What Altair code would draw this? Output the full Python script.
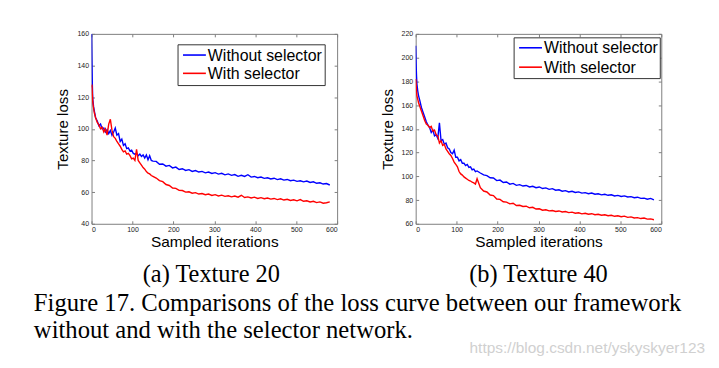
import altair as alt
import pandas as pd

ITER = [0, 1, 2, 3, 5, 7, 10, 14, 18, 22, 26, 30, 34, 38, 42, 46, 50, 54, 58, 62, 66, 70, 74, 78, 82, 86, 90,
        94, 98, 102, 106, 110, 114, 118, 122, 126, 130, 134, 138, 142, 146, 150, 158, 166, 174, 182, 190, 198,
        206, 214, 222, 230, 238, 246, 254, 262, 270, 278, 286, 294, 302, 310, 318, 326, 334, 342, 350, 358,
        366, 374, 382, 390, 398, 406, 414, 422, 430, 438, 446, 454, 462, 470, 478, 486, 494, 502, 510, 518,
        526, 534, 542, 550, 558, 566, 574, 582]

T20_WITHOUT = [160, 142, 128, 119, 114, 111, 107, 105, 102, 103, 100, 100.5, 98, 99.5, 97, 99, 96, 98, 100.5,
               96, 97, 92, 93.5, 89.5, 90.5, 87.5, 88, 86, 86.5, 84.5, 84, 84.5, 83, 84, 82.5, 83.5, 81.5, 83.5,
               80.5, 83, 80, 79.6,
               79.4, 77.6, 77.8, 76.4, 76.9, 75.3, 75.8, 74.3, 74.8, 73.7, 74.2, 73.1, 73.6, 72.7, 73.1, 72.2,
               72.7, 71.8, 72.3, 71.4, 71.9, 70.9, 71.5, 70.6, 71.1, 70.0, 70.6, 69.9, 71.0, 69.5, 69.9, 69.1,
               69.5, 68.7, 69.1, 68.3, 68.8, 67.9, 68.4, 67.6, 68.0, 67.2, 67.6, 66.8, 67.2, 66.5, 67.0, 66.1,
               66.5, 65.6, 65.9, 65.1, 65.4, 64.5]
T20_WITH = [126, 128, 122, 117, 113, 110, 107, 104, 102.5, 100, 101, 98, 100, 96, 103, 106, 99, 95, 94, 92,
            90.5, 89, 87, 85.5, 86, 84, 84.5, 83, 81, 81.5, 80, 87, 80, 78.5, 77, 75.5, 74.5, 73, 72, 71.5, 70.5,
            70,
            68.9, 67.3, 66.6, 64.8, 64.2, 62.6, 62.4, 61.1, 61.0, 60.0, 60.2, 59.3, 59.7, 58.8, 59.1, 58.4,
            58.8, 57.9, 58.4, 57.6, 58.1, 57.3, 57.7, 57.0, 57.5, 56.8, 58.0, 56.6, 57.0, 56.3, 56.8, 56.0,
            56.5, 55.8, 56.3, 55.6, 56.0, 55.3, 55.8, 55.0, 55.5, 54.7, 55.2, 54.5, 55.3, 54.2, 54.5, 53.8,
            54.2, 53.4, 53.8, 53.0, 53.3, 53.8]
T40_WITHOUT = [210, 195, 185, 178, 172, 168, 164, 158, 154, 150, 146, 143, 141, 137, 139, 134, 135, 132, 145,
               130, 131, 127, 128, 124, 123, 120, 119, 122, 116, 116, 113, 114, 111, 111, 109, 110, 107.5, 108,
               105.5, 106, 104, 104.5,
               102.8, 101.2, 100.6, 98.8, 98.6, 96.4, 96.8, 94.8, 95.2, 93.4, 94.0, 92.4, 93.0, 91.8, 92.3,
               91.0, 91.6, 90.4, 91.0, 89.7, 90.2, 89.0, 89.6, 88.3, 88.6, 87.4, 87.9, 86.8, 87.4, 86.4, 86.9,
               85.8, 86.2, 85.3, 85.9, 84.9, 85.3, 84.4, 84.9, 84.0, 84.4, 83.4, 83.9, 83.0, 83.5, 82.6, 82.9,
               82.0, 82.4, 81.4, 81.6, 80.7, 81.4, 80.2]
T40_WITH = [182, 178, 172, 168, 165, 162, 159, 155, 151, 147, 144, 143, 141, 142, 138, 139, 135, 134, 128, 130,
            126, 127, 123, 121, 119, 117.5, 115, 112, 110, 108, 104, 102, 101, 99.5, 98.5, 97.5, 96.5, 96, 95,
            94.5, 93.5, 98,
            90.4, 87.6, 86.8, 84.2, 83.8, 80.9, 80.6, 78.6, 78.3, 76.8, 77.3, 75.4, 75.6, 74.6, 74.8, 73.5,
            73.9, 72.4, 72.6, 71.4, 71.8, 70.9, 71.2, 70.4, 70.8, 69.9, 70.3, 69.4, 69.8, 68.9, 69.3, 68.4,
            68.9, 68.0, 68.5, 67.6, 68.0, 67.2, 67.6, 66.8, 67.2, 66.3, 66.7, 65.9, 66.4, 65.4, 65.8, 64.9,
            65.2, 64.4, 64.8, 63.9, 64.1, 63.4]

SERIES = ["Without selector", "With selector"]
COLORS = ["#0000ff", "#ff0000"]
X_TICKS = [0, 100, 200, 300, 400, 500, 600]
Y20_TICKS = [40, 60, 80, 100, 120, 140, 160]
Y40_TICKS = [60, 80, 100, 120, 140, 160, 180, 200, 220]
PANEL_CAPTIONS = ["(a) Texture 20", "(b) Texture 40"]
FIG_CAPTION = ["Figure 17. Comparisons of the loss curve between our framework",
               "without and with the selector network."]
WATERMARK = "https://blog.csdn.net/yskyskyer123"

W, H = 247, 191
SANS = "Liberation Sans"
SERIF = "Liberation Serif"
FRAME = "#7f7f7f"
ONE = pd.DataFrame({"k": [0]})


def text_layer(txt, x, y, size, font, color="#000000", align="left", baseline="alphabetic"):
    return alt.Chart(pd.DataFrame({"t": [txt]})).mark_text(
        align=align, baseline=baseline, font=font, fontSize=size, color=color
    ).encode(text="t:N", x=alt.value(x), y=alt.value(y))


def legend_layers(bx, by, bw, bh, rows):
    out = [alt.Chart(ONE).mark_rect(fill="#ffffff", stroke="#333333", strokeWidth=1).encode(
        x=alt.value(bx), x2=alt.value(bx + bw), y=alt.value(by), y2=alt.value(by + bh))]
    for name, col, ry in zip(SERIES, COLORS, rows):
        out.append(alt.Chart(ONE).mark_rule(color=col, strokeWidth=1.6).encode(
            x=alt.value(bx + 5), x2=alt.value(bx + 28), y=alt.value(ry)))
        out.append(text_layer(name, bx + 30, ry + 0.5, 16, SANS, baseline="middle"))
    return out


def panel(without, with_, yticks, leg, caption, cap_dx, extras):
    df = pd.DataFrame({
        "iter": ITER + ITER,
        "loss": without + with_,
        "series": [SERIES[0]] * len(ITER) + [SERIES[1]] * len(ITER),
    })
    xs = alt.Scale(domain=[X_TICKS[0], X_TICKS[-1]], nice=False, zero=False)
    ys = alt.Scale(domain=[yticks[0], yticks[-1]], nice=False, zero=False)
    common = dict(grid=False, domain=False, tickSize=3, offset=-3, tickColor=FRAME,
                  labelFont=SANS, labelFontSize=7, labelColor="#222222",
                  titleFont=SANS, titleFontWeight="normal", titleColor="#000000")
    base = alt.Chart(df)
    lines = base.mark_line(strokeWidth=1.4, clip=True).encode(
        x=alt.X("iter:Q", scale=xs, axis=alt.Axis(orient="bottom", values=X_TICKS, title="Sampled iterations",
                                                   labelPadding=2, titlePadding=2, titleFontSize=15.5,
                                                   **common)),
        y=alt.Y("loss:Q", scale=ys, axis=alt.Axis(orient="left", values=yticks, title="Texture loss",
                                                   labelPadding=3, titlePadding=6, titleFontSize=15.2,
                                                   **common)),
        color=alt.Color("series:N", scale=alt.Scale(domain=SERIES, range=COLORS), legend=None),
    )
    mirror = base.mark_line(opacity=0).encode(
        x=alt.X("iter:Q", scale=xs, axis=alt.Axis(orient="top", values=X_TICKS, labels=False, title=None,
                                                   **common)),
        y=alt.Y("loss:Q", scale=ys, axis=alt.Axis(orient="right", values=yticks, labels=False, title=None,
                                                   **common)),
    )
    layers = [lines, mirror] + legend_layers(*leg) + \
             [text_layer(caption, W / 2 + cap_dx, 250, 24.5, SERIF, align="center")] + extras
    return alt.layer(*layers).resolve_axis(x="independent", y="independent").properties(width=W, height=H)


left_extras = [
    text_layer(FIG_CAPTION[0], -58, 279, 24.8, SERIF),
    text_layer(FIG_CAPTION[1], -58, 306, 24.8, SERIF),
    text_layer(WATERMARK, 617, 321, 15.5, SANS, color="#d0d0d0", align="right"),
]

left = panel(T20_WITHOUT, T20_WITH, Y20_TICKS, (87, 11, 148, 41, (21.3, 39.7)), PANEL_CAPTIONS[0], -3,
             left_extras)
right = panel(T40_WITHOUT, T40_WITH, Y40_TICKS, (99, 4, 147, 41, (14, 33.5)), PANEL_CAPTIONS[1], 0, [])

chart = alt.hconcat(left, right, spacing=79, bounds="flush").properties(
    padding={"left": 25, "top": 20, "right": 5, "bottom": 5}
).configure_view(stroke=FRAME, strokeWidth=1)

chart.save("out.html", embed_options={"renderer": "svg", "actions": False})
